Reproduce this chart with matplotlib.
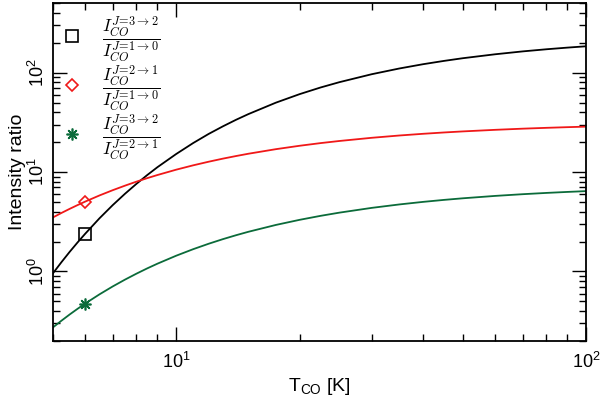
import matplotlib
matplotlib.use('Agg')
import matplotlib.pyplot as plt

plt.rcParams['font.family'] = ['Liberation Sans', 'DejaVu Sans']

# T_CO [K] and line ratios
T_co = [5, 5.25, 5.5, 5.75, 6, 6.5, 7, 7.5, 8, 8.5, 9, 10, 11, 12, 13, 14, 15, 17.5,
        20, 22.5, 25, 30, 35, 40, 45, 50, 60, 70, 80, 90, 100]
r32_10 = [0.954, 1.242, 1.58, 1.966, 2.40, 3.43, 4.65, 6.05, 7.62, 9.34, 11.2, 15.2,
          19.59, 24.2, 28.85, 33.6, 38.3, 49.9, 60.8, 70.95, 80.2, 96.5, 110.1, 121.6,
          131.3, 139.7, 153.1, 163.6, 171.9, 178.6, 184.2]
r21_10 = [3.49, 3.88, 4.27, 4.66, 5.05, 5.82, 6.57, 7.30, 8.01, 8.69, 9.34, 10.57,
          11.69, 12.71, 13.65, 14.50, 15.29, 16.99, 18.39, 19.56, 20.54, 22.12, 23.32,
          24.26, 25.02, 25.64, 26.60, 27.32, 27.86, 28.29, 28.64]
r32_21 = [0.273, 0.320, 0.370, 0.422, 0.476, 0.589, 0.707, 0.828, 0.951, 1.075, 1.198,
          1.441, 1.676, 1.901, 2.115, 2.317, 2.508, 2.938, 3.308, 3.628, 3.906, 4.364,
          4.723, 5.012, 5.249, 5.446, 5.757, 5.989, 6.169, 6.313, 6.431]

# marked points
T_mark = 6
mark_vals = [2.40, 5.05, 0.476]

labels = [r'$\dfrac{I_{CO}^{J\!=\!3\rightarrow2}}{I_{CO}^{J\!=\!1\rightarrow0}}$',
          r'$\dfrac{I_{CO}^{J\!=\!2\rightarrow1}}{I_{CO}^{J\!=\!1\rightarrow0}}$',
          r'$\dfrac{I_{CO}^{J\!=\!3\rightarrow2}}{I_{CO}^{J\!=\!2\rightarrow1}}$']

black = 'black'
red = '#f01818'
green = '#0b6b3a'

fig = plt.figure(figsize=(6, 3.96), dpi=100)
ax = fig.add_axes([0.088, 0.139, 0.889, 0.853])

ax.plot(T_co, r32_10, color=black, lw=1.3)
ax.plot(T_co, r21_10, color=red, lw=1.3)
ax.plot(T_co, r32_21, color=green, lw=1.3)

h1, = ax.plot(T_mark, mark_vals[0], 's', mfc='none', mec=black, ms=8, mew=1.2, label=labels[0])
h2, = ax.plot(T_mark, mark_vals[1], 'D', mfc='none', mec=red, ms=6.5, mew=1.2, label=labels[1])
h3, = ax.plot(T_mark, mark_vals[2], marker=(8, 2, 0), ls='none', color=green, ms=8.5, mew=1.2, label=labels[2])

ax.set_xscale('log')
ax.set_yscale('log')
ax.set_xlim(5, 100)
ax.set_ylim(0.2, 500)

ax.tick_params(which='both', direction='in', top=True, right=True, width=1, labelsize=13)
ax.tick_params(which='major', length=10)
ax.tick_params(which='minor', length=5)
ax.tick_params(axis='x', pad=8)
for lab in ax.get_yticklabels():
    lab.set_rotation(90)
    lab.set_va('center')
for s in ax.spines.values():
    s.set_linewidth(1.3)

ax.set_xlabel(r'T$_\mathregular{CO}$ [K]', fontsize=14, labelpad=3)
ax.set_ylabel('Intensity ratio', fontsize=14, labelpad=1)

leg = ax.legend(handles=[h1, h2, h3], loc='upper left', frameon=False, numpoints=1,
                fontsize=12.5, labelspacing=-0.05, handlelength=1.0, handleheight=1.0,
                handletextpad=1.22, borderpad=0, borderaxespad=0,
                bbox_to_anchor=(0.0193, 0.968))
for t in leg.get_texts():
    t.set_math_fontfamily('cm')

fig.savefig('out.png', dpi=100)
